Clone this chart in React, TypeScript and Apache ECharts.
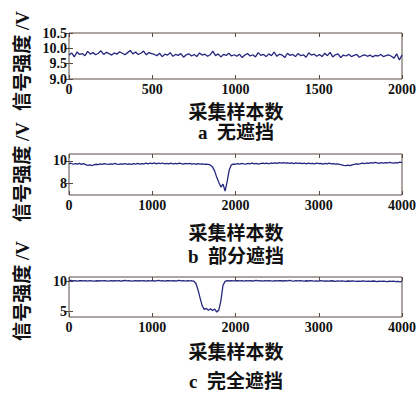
import React, { useEffect, useRef } from "react";
import * as echarts from "echarts";

// Panel a: 无遮挡 (0–2000 samples, step 16)
const stepA = 16;
const signalA = [
  9.78, 9.85, 9.72, 9.88, 9.80, 9.83, 9.76, 9.90, 9.81, 9.86, 9.79, 9.84, 9.92, 9.80, 9.87, 9.83,
  9.78, 9.85, 9.81, 9.89, 9.84, 9.79, 9.86, 9.93, 9.82, 9.88, 9.80, 9.84, 9.91, 9.79, 9.86, 9.83,
  9.80, 9.76, 9.84, 9.73, 9.81, 9.78, 9.86, 9.74, 9.80, 9.77, 9.83, 9.71, 9.79, 9.82, 9.75, 9.80,
  9.73, 9.85, 9.78, 9.81, 9.74, 9.79, 9.91, 9.76, 9.82, 9.72, 9.80, 9.77, 9.84, 9.75, 9.79,
  9.74, 9.81, 9.70, 9.78, 9.83, 9.75, 9.79, 9.72, 9.86, 9.77, 9.80, 9.73, 9.82, 9.76, 9.88, 9.74,
  9.81, 9.78, 9.70, 9.84, 9.77, 9.80, 9.73, 9.83, 9.76, 9.79, 9.71, 9.85, 9.78, 9.81, 9.74,
  9.80, 9.73, 9.84, 9.76, 9.87, 9.72, 9.79, 9.82, 9.70, 9.78, 9.75, 9.81, 9.73, 9.77, 9.80, 9.71,
  9.76, 9.79, 9.74, 9.78, 9.72, 9.77, 9.75, 9.80, 9.73, 9.76, 9.79, 9.74, 9.68, 9.82, 9.62, 9.78,
];

// Panel b: 部分遮挡 (0–4000 samples, step 25)
const stepB = 25;
const signalB = [
  9.74, 9.79, 9.70, 9.76, 9.72, 9.78, 9.69, 9.75,
  9.66, 9.61, 9.64, 9.59, 9.65, 9.70, 9.67, 9.73,
  9.69, 9.75, 9.71, 9.68, 9.74, 9.70, 9.77, 9.72,
  9.68, 9.74, 9.71, 9.76, 9.70, 9.73, 9.69, 9.75,
  9.72, 9.78, 9.71, 9.76, 9.73, 9.79, 9.74, 9.80,
  9.76, 9.82, 9.74, 9.79, 9.75, 9.81, 9.73, 9.78,
  9.74, 9.80, 9.72, 9.77, 9.73, 9.79, 9.75, 9.71,
  9.77, 9.73, 9.78, 9.72, 9.76, 9.70, 9.75, 9.71,
  9.74, 9.69, 9.72, 9.68, 9.62, 9.45, 9.10, 8.55,
  8.10, 7.70, 7.95, 7.35, 8.20, 9.20, 9.65, 9.72,
  9.70, 9.76, 9.72, 9.78, 9.74, 9.71, 9.77, 9.73,
  9.79, 9.74, 9.78, 9.72, 9.76, 9.80, 9.75, 9.79,
  9.74, 9.81, 9.77, 9.83, 9.78, 9.85, 9.80, 9.84,
  9.79, 9.83, 9.78, 9.81, 9.76, 9.82, 9.78, 9.80,
  9.75, 9.79, 9.74, 9.80, 9.76, 9.78, 9.73, 9.79,
  9.75, 9.78, 9.72, 9.77, 9.74, 9.79, 9.73, 9.76,
  9.71, 9.74, 9.68, 9.65, 9.60, 9.57, 9.62, 9.58,
  9.64, 9.68, 9.73, 9.70, 9.76, 9.79, 9.75, 9.81,
  9.78, 9.84, 9.80, 9.86, 9.82, 9.78, 9.84, 9.80,
  9.85, 9.81, 9.87, 9.83, 9.79, 9.85, 9.82, 9.88, 9.84,
];

// Panel c: 完全遮挡 (0–4000 samples, step 25)
const stepC = 25;
const signalC = [
  10.15, 10.22, 10.12, 10.18, 10.10, 10.16, 10.20, 10.13,
  10.17, 10.11, 10.19, 10.14, 10.09, 10.16, 10.12, 10.18,
  10.13, 10.19, 10.15, 10.10, 10.17, 10.12, 10.20, 10.14,
  10.18, 10.11, 10.16, 10.21, 10.13, 10.17, 10.10, 10.15,
  10.19, 10.12, 10.17, 10.14, 10.20, 10.11, 10.16, 10.13,
  10.18, 10.12, 10.15, 10.21, 10.14, 10.17, 10.11, 10.16,
  10.20, 10.13, 10.18, 10.12, 10.16, 10.22, 10.14, 10.17,
  10.11, 10.18, 10.13, 10.16, 10.08, 9.70, 8.60, 7.20,
  5.90, 5.30, 5.45, 5.15, 5.40, 5.10, 5.35, 4.85,
  5.20, 6.80, 9.40, 10.05, 10.17, 10.12, 10.19, 10.14,
  10.16, 10.20, 10.13, 10.18, 10.11, 10.17, 10.14, 10.19,
  10.12, 10.16, 10.21, 10.14, 10.18, 10.11, 10.17, 10.13,
  10.19, 10.15, 10.10, 10.17, 10.13, 10.20, 10.16, 10.12,
  10.18, 10.14, 10.21, 10.15, 10.11, 10.17, 10.13, 10.19,
  10.15, 10.10, 10.16, 10.12, 10.18, 10.14, 10.09, 10.15,
  10.11, 10.17, 10.13, 10.08, 10.14, 10.10, 10.16, 10.12,
  10.07, 10.13, 10.09, 10.15, 10.11, 10.06, 10.12, 10.08,
  10.14, 10.10, 10.05, 10.11, 10.07, 10.13, 10.09, 10.04,
  10.10, 10.06, 10.12, 10.08, 10.03, 10.09, 10.05, 10.11,
  10.07, 10.02, 10.08, 10.04, 10.10, 10.01, 10.06, 9.98, 10.05,
];

const yTicksA = [9.0, 9.5, 10.0, 10.5];
const yTicksB = [8, 10];
const yTicksC = [5, 10];
const xMaxA = 2000;
const xMaxBC = 4000;
const xLabel = "采集样本数";
const yLabel = "信号强度 /V";
const captions = ["a  无遮挡", "b  部分遮挡", "c  完全遮挡"];

const FONT = "Liberation Serif, Noto Sans CJK SC, serif";
const LINE = "#26267f";
const FRAME = "#5a4a42";

const grids = [
  { left: 69, top: 33, width: 335, height: 46 },
  { left: 69, top: 154, width: 335, height: 41 },
  { left: 69, top: 277, width: 335, height: 40 },
];

export default function App() {
  const ref = useRef<HTMLDivElement>(null);
  useEffect(() => {
    if (!ref.current) return;
    const chart = echarts.init(ref.current, null, { renderer: "svg" });
    const toPairs = (arr: number[], step: number) => arr.map((v, i) => [i * step, v]);
    const tickLbl = { fontFamily: FONT, fontSize: 14, fontWeight: "bold" as const, color: "#111" };

    const xAxes: any[] = [];
    const yAxes: any[] = [];
    const yConf = [
      { min: 9, max: 10.5, ticks: yTicksA, fmt: (v: number) => v.toFixed(1) },
      { min: 7, max: 10.6, ticks: yTicksB, fmt: (v: number) => String(v) },
      { min: 4, max: 10.8, ticks: yTicksC, fmt: (v: number) => String(v) },
    ];
    const xMaxes = [xMaxA, xMaxBC, xMaxBC];
    grids.forEach((_, gi) => {
      const xm = xMaxes[gi];
      const xInt = xm / 4;
      xAxes.push({
        type: "value", gridIndex: gi, min: 0, max: xm, interval: xInt, position: "bottom",
        axisLine: { show: false }, splitLine: { show: false },
        axisTick: { inside: true, length: 4, lineStyle: { color: FRAME } },
        axisLabel: { ...tickLbl, margin: 3, formatter: (v: number) => String(v) },
      });
      xAxes.push({
        type: "value", gridIndex: gi, min: 0, max: xm, interval: xInt, position: "top",
        axisLine: { show: false }, splitLine: { show: false },
        axisTick: { inside: true, length: 4, lineStyle: { color: FRAME } },
        axisLabel: { show: false },
      });
      const yc = yConf[gi];
      yAxes.push({
        type: "value", gridIndex: gi, min: yc.min, max: yc.max, position: "left",
        axisLine: { show: false }, splitLine: { show: false },
        axisTick: { inside: true, length: 4, customValues: yc.ticks, lineStyle: { color: FRAME } },
        axisLabel: { ...tickLbl, margin: 2, customValues: yc.ticks, formatter: yc.fmt },
      });
      yAxes.push({
        type: "value", gridIndex: gi, min: yc.min, max: yc.max, position: "right",
        axisLine: { show: false }, splitLine: { show: false },
        axisTick: { inside: true, length: 4, customValues: yc.ticks, lineStyle: { color: FRAME } },
        axisLabel: { show: false },
      });
    });

    const series = [
      toPairs(signalA, stepA),
      toPairs(signalB, stepB),
      toPairs(signalC, stepC),
    ].map((d, gi) => ({
      type: "line", xAxisIndex: gi * 2, yAxisIndex: gi * 2, data: d,
      showSymbol: false, symbol: "none",
      lineStyle: { color: LINE, width: 1.3 }, silent: true,
    }));

    const cjk = { fontFamily: FONT, fontSize: 19, fontWeight: "bold" as const, fill: "#111" };
    const xLabelY = [112, 233, 352];
    const capY = [132, 256, 381];
    const yLabelY = [61, 172, 291];
    const graphic: any[] = [];
    grids.forEach((_, gi) => {
      graphic.push({ type: "text", x: 236, y: xLabelY[gi], style: { ...cjk, text: xLabel, align: "center", verticalAlign: "middle" } });
      graphic.push({ type: "text", x: 236, y: capY[gi], style: { ...cjk, text: captions[gi], align: "center", verticalAlign: "middle" } });
      graphic.push({ type: "text", x: 22, y: yLabelY[gi], rotation: Math.PI / 2, style: { ...cjk, text: yLabel, align: "center", verticalAlign: "middle" } });
    });

    chart.setOption({
      animation: false,
      backgroundColor: "#fff",
      grid: grids.map((g) => ({ ...g, show: true, borderColor: FRAME, borderWidth: 1, backgroundColor: "transparent" })),
      xAxis: xAxes,
      yAxis: yAxes,
      series,
      graphic,
    });
    return () => chart.dispose();
  }, []);
  return <div ref={ref} style={{ position: "fixed", left: 0, top: 0, width: 419, height: 394 }} />;
}
